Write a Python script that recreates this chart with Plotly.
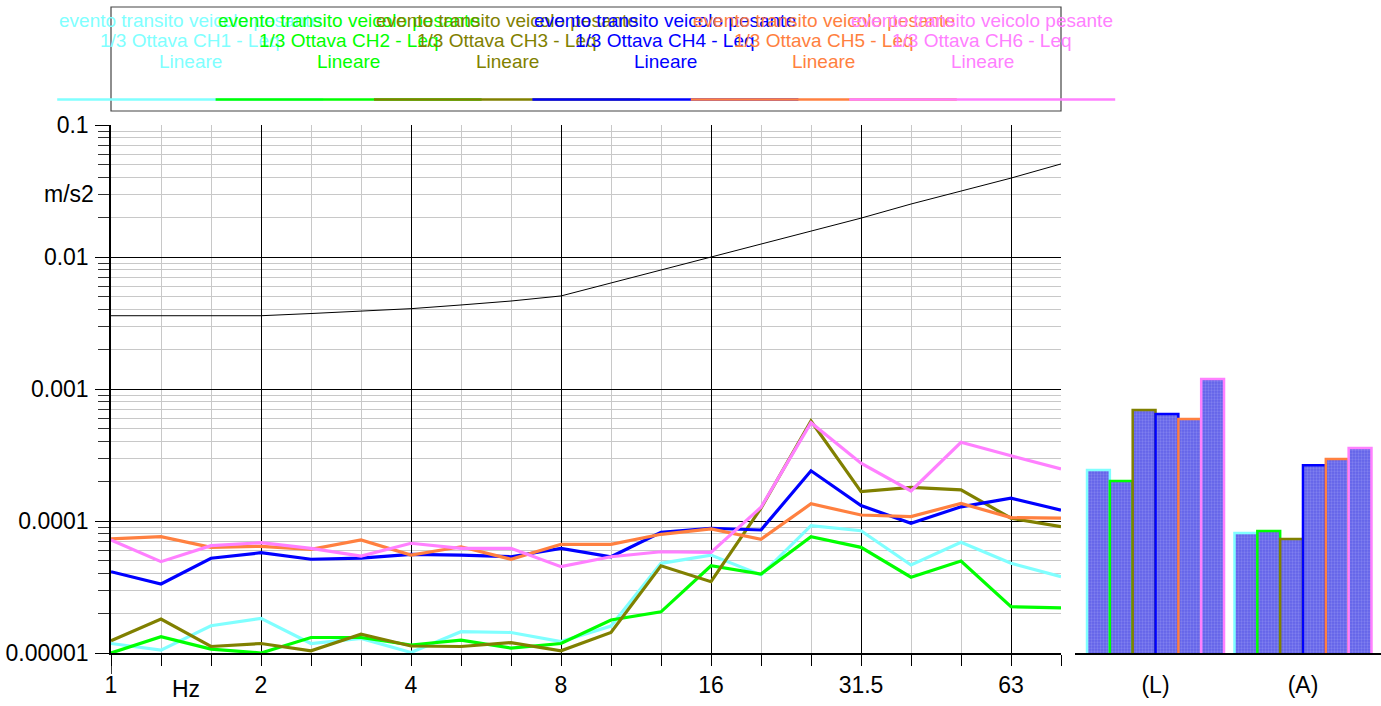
import plotly.graph_objects as go

# 1/3-octave band centre frequencies (Hz) and the octave labels shown on the axis
BANDS_HZ = ["1", "1.25", "1.6", "2", "2.5", "3.15", "4", "5", "6.3", "8",
            "10", "12.5", "16", "20", "25", "31.5", "40", "50", "63", "80"]
OCTAVE_LABELS = ["1", "2", "4", "8", "16", "31.5", "63"]

# Leq acceleration per band (m/s2), one list per channel
CH1 = [1.18e-5, 1.05e-5, 1.61e-5, 1.83e-5, 1.18e-5, 1.29e-5, 1.01e-5, 1.45e-5, 1.43e-5, 1.22e-5,
       1.60e-5, 4.78e-5, 5.52e-5, 3.90e-5, 9.21e-5, 8.44e-5, 4.64e-5, 6.90e-5, 4.78e-5, 3.78e-5]
CH2 = [1.00e-5, 1.33e-5, 1.07e-5, 1.00e-5, 1.31e-5, 1.31e-5, 1.15e-5, 1.25e-5, 1.09e-5, 1.18e-5,
       1.78e-5, 2.05e-5, 4.58e-5, 3.97e-5, 7.60e-5, 6.32e-5, 3.75e-5, 4.98e-5, 2.24e-5, 2.20e-5]
CH3 = [1.24e-5, 1.81e-5, 1.12e-5, 1.18e-5, 1.04e-5, 1.39e-5, 1.13e-5, 1.12e-5, 1.20e-5, 1.04e-5,
       1.43e-5, 4.58e-5, 3.47e-5, 1.25e-4, 5.72e-4, 1.67e-4, 1.80e-4, 1.72e-4, 1.05e-4, 9.05e-5]
CH4 = [4.13e-5, 3.33e-5, 5.22e-5, 5.75e-5, 5.13e-5, 5.24e-5, 5.59e-5, 5.52e-5, 5.36e-5, 6.21e-5,
       5.36e-5, 8.21e-5, 8.81e-5, 8.55e-5, 2.40e-4, 1.31e-4, 9.61e-5, 1.28e-4, 1.49e-4, 1.21e-4]
CH5 = [7.31e-5, 7.60e-5, 6.32e-5, 6.43e-5, 6.10e-5, 7.18e-5, 5.52e-5, 6.38e-5, 5.13e-5, 6.66e-5,
       6.66e-5, 7.93e-5, 8.70e-5, 7.27e-5, 1.35e-4, 1.11e-4, 1.08e-4, 1.36e-4, 1.06e-4, 1.05e-4]
CH6 = [7.18e-5, 4.92e-5, 6.50e-5, 6.85e-5, 6.21e-5, 5.43e-5, 6.78e-5, 6.21e-5, 6.21e-5, 4.51e-5,
       5.36e-5, 5.85e-5, 5.79e-5, 1.27e-4, 5.56e-4, 2.74e-4, 1.69e-4, 3.95e-4, 3.12e-4, 2.48e-4]

# Reference limit curve (m/s2)
LIMIT = [3.59e-3, 3.59e-3, 3.59e-3, 3.59e-3, 3.73e-3, 3.90e-3, 4.06e-3, 4.33e-3, 4.64e-3, 5.07e-3,
         6.36e-3, 7.97e-3, 1.00e-2, 1.25e-2, 1.57e-2, 1.97e-2, 2.52e-2, 3.16e-2, 3.96e-2, 5.07e-2]

# Overall values per channel: linear (L) and A-weighted (A)
BAR_GROUPS = ["(L)", "(A)"]
TOTAL_L = [2.43e-4, 2.01e-4, 6.93e-4, 6.47e-4, 5.93e-4, 1.19e-3]
TOTAL_A = [8.11e-5, 8.40e-5, 7.31e-5, 2.65e-4, 2.95e-4, 3.57e-4]

CHANNELS = ["CH1", "CH2", "CH3", "CH4", "CH5", "CH6"]
SERIES = [CH1, CH2, CH3, CH4, CH5, CH6]
COLORS = ["#80ffff", "#00ff00", "#808000", "#0000ff", "#ff8040", "#ff80ff"]
EVENT = "evento transito veicolo pesante"
WEIGHTING = "Lineare"

Y_TICK_VALUES = [1e-5, 1e-4, 1e-3, 1e-2, 1e-1]
Y_TICK_TEXT = ["0.00001", "0.0001", "0.001", "0.01", "0.1"]

# ---------------------------------------------------------------- geometry
W, H = 1381, 706
FONT = "Arial, 'Liberation Sans', sans-serif"
TICK_SIZE = 23


def fx(p):
    return p / W


def fy(p):
    return 1 - p / H


PLOT_L, PLOT_R, PLOT_T, PLOT_B = 111, 1061, 125, 653
BAR_L = 1075

idx = list(range(len(BANDS_HZ)))
octave_idx = [BANDS_HZ.index(lbl) for lbl in OCTAVE_LABELS]
minor_x = [i for i in idx if i not in octave_idx]

minor_y = [m * 10.0 ** e for e in range(-5, -1) for m in range(2, 10)]

fig = go.Figure()

fig.add_trace(go.Scatter(x=idx, y=LIMIT, mode="lines",
                         line=dict(color="black", width=1),
                         xaxis="x", yaxis="y", showlegend=False, hoverinfo="skip"))

for name, vals, col in zip(CHANNELS, SERIES, COLORS):
    fig.add_trace(go.Scatter(x=idx, y=vals, mode="lines", name=name,
                             line=dict(color=col, width=3.2),
                             xaxis="x", yaxis="y", showlegend=False))

for k, (name, col) in enumerate(zip(CHANNELS, COLORS)):
    fig.add_trace(go.Bar(x=BAR_GROUPS, y=[TOTAL_L[k], TOTAL_A[k]], name=name,
                         xaxis="x2", yaxis="y2", showlegend=False,
                         marker=dict(color="#6262e8",
                                     line=dict(color=col, width=2.5),
                                     pattern=dict(shape=".", fgcolor="#9c9cf6",
                                                  size=3, solidity=0.45))))

# ---------------------------------------------------------------- legend block
shapes = []
annotations = []
LEG_X0, LEG_STEP, LEG_HALF = 190.2, 158.4, 133
shapes.append(dict(type="rect", xref="paper", yref="paper",
                   x0=fx(PLOT_L), x1=fx(PLOT_R), y0=fy(111), y1=fy(7),
                   line=dict(color="#444444", width=1.2)))
for k, (name, col) in enumerate(zip(CHANNELS, COLORS)):
    cx = LEG_X0 + LEG_STEP * k
    shapes.append(dict(type="line", xref="paper", yref="paper",
                       x0=fx(cx - LEG_HALF), x1=fx(cx + LEG_HALF), y0=fy(99.5), y1=fy(99.5),
                       line=dict(color=col, width=2.5)))
    for row, (txt, ypx) in enumerate([(EVENT, 20),
                                      ("1/3 Ottava %s - Leq" % name, 40),
                                      (WEIGHTING, 61.5)]):
        annotations.append(dict(xref="paper", yref="paper", x=fx(cx), y=fy(ypx),
                                text=txt, showarrow=False, xanchor="center", yanchor="middle",
                                font=dict(family=FONT, size=19, color=col)))

# y-axis line running past the origin
shapes.append(dict(type="line", xref="x", yref="paper", x0=0, x1=0,
                   y0=fy(PLOT_B), y1=fy(674), line=dict(color="black", width=1.5)))

annotations.append(dict(xref="x", yref="paper", x=1.5, y=fy(689), text="Hz",
                        showarrow=False, xanchor="center", yanchor="middle",
                        font=dict(family=FONT, size=TICK_SIZE, color="black")))
annotations.append(dict(xref="paper", yref="y", x=fx(96), y=-1.523, text="m/s2",
                        showarrow=False, xanchor="right", yanchor="middle",
                        font=dict(family=FONT, size=TICK_SIZE, color="black")))

fig.update_layout(
    width=W, height=H, autosize=False,
    margin=dict(l=0, r=0, t=0, b=0, pad=0, autoexpand=False),
    paper_bgcolor="white", plot_bgcolor="white",
    font=dict(family=FONT, size=TICK_SIZE, color="black"),
    barmode="group", bargap=0.071, bargroupgap=0,
    shapes=shapes, annotations=annotations,
    xaxis=dict(domain=[fx(PLOT_L), fx(PLOT_R)], anchor="y", automargin=False,
               range=[0, len(BANDS_HZ) - 1],
               tickmode="array", tickvals=octave_idx, ticktext=OCTAVE_LABELS,
               ticks="outside", ticklen=11, tickcolor="black", tickwidth=1,
               showgrid=True, gridcolor="black", gridwidth=1.2,
               showline=True, linecolor="black", linewidth=1.5,
               zeroline=False, tickfont=dict(size=TICK_SIZE),
               minor=dict(tickvals=minor_x, ticks="outside", ticklen=11,
                          tickcolor="black", showgrid=True,
                          gridcolor="#c8c8c8", gridwidth=1)),
    yaxis=dict(domain=[fy(PLOT_B), fy(PLOT_T)], anchor="x", automargin=False,
               type="log", range=[-5, -1],
               tickmode="array", tickvals=Y_TICK_VALUES, ticktext=Y_TICK_TEXT,
               ticks="outside", ticklen=14, tickcolor="black", tickwidth=1,
               showgrid=True, gridcolor="black", gridwidth=1.2,
               showline=True, linecolor="black", linewidth=1.5,
               zeroline=False, tickfont=dict(size=TICK_SIZE), ticklabelstandoff=2,
               minor=dict(tickvals=minor_y, ticks="outside", ticklen=11,
                          tickcolor="#333333", showgrid=True,
                          gridcolor="#c8c8c8", gridwidth=1)),
    xaxis2=dict(domain=[fx(BAR_L), 1.0], anchor="y2", type="category", automargin=False,
                categoryorder="array", categoryarray=BAR_GROUPS,
                range=[-0.546, 1.529],
                ticks="outside", ticklen=11, tickcolor="rgba(0,0,0,0)",
                showgrid=False, showline=True, linecolor="black", linewidth=1.5,
                tickfont=dict(size=TICK_SIZE)),
    yaxis2=dict(domain=[fy(PLOT_B), fy(PLOT_T)], anchor="x2", automargin=False,
                type="log", range=[-5, -1], visible=False),
)

fig.write_html("out.html")
